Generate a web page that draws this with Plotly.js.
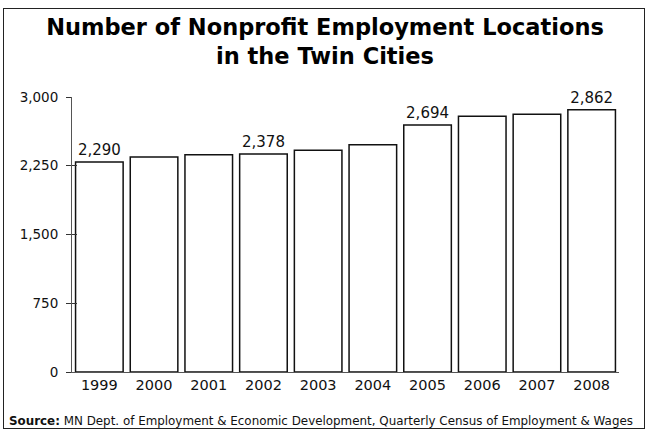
<!DOCTYPE html>
<html>
<head>
<meta charset="utf-8">
<script src="https://cdn.plot.ly/plotly-3.0.1.min.js"></script>
<style>
  html, body { margin: 0; padding: 0; background: #fff; }
  #wrap { position: relative; width: 650px; height: 432px; }
  #frame { position: absolute; left: 3px; top: 8px; width: 642px; height: 421px; border: 1.5px solid #222; box-sizing: border-box; pointer-events: none; z-index: 2; }
  #chart { position: absolute; left: 0; top: 0; width: 650px; height: 432px; }
</style>
</head>
<body>
<div id="wrap">
  <div id="chart"></div>
  <div id="frame"></div>
</div>
<script>
const years = ['1999','2000','2001','2002','2003','2004','2005','2006','2007','2008'];
const locations = [2290, 2345, 2370, 2378, 2418, 2480, 2694, 2790, 2812, 2862];
const labeled = [true, false, false, true, false, false, true, false, false, true];
const yTicks = [0, 750, 1500, 2250, 3000];
const yTickText = ['0', '750', '1,500', '2,250', '3,000'];
const titleText = '<b>Number of Nonprofit Employment Locations<br>in the Twin Cities</b>';
const sourceText = '<b>Source:</b> MN Dept. of Employment &amp; Economic Development, Quarterly Census of Employment &amp; Wages';

const fmt = v => v.toLocaleString('en-US');
const FONT = 'DejaVu Sans, sans-serif';

const trace = {
  type: 'bar',
  x: years,
  y: locations,
  text: locations.map((v, i) => labeled[i] ? fmt(v) : ''),
  textposition: 'outside',
  textfont: {family: FONT, size: 15, color: '#111'},
  cliponaxis: false,
  marker: {color: '#ffffff', line: {color: '#111', width: 1.5}},
  hoverinfo: 'none'
};
const ghost = {type: 'scatter', x: [years[0]], y: [0], yaxis: 'y2', mode: 'none', showlegend: false, hoverinfo: 'none'};

const layout = {
  width: 650, height: 432,
  margin: {l: 72, r: 31, t: 97, b: 60},
  paper_bgcolor: 'rgba(0,0,0,0)',
  plot_bgcolor: '#ffffff',
  showlegend: false,
  bargap: 0.13,
  font: {family: FONT, color: '#111'},
  title: {text: titleText, font: {family: FONT, size: 22.5, color: '#000'}, x: 0.5, xanchor: 'center', y: 0.92, yanchor: 'middle'},
  xaxis: {
    type: 'category', showgrid: false, showline: true, linecolor: '#555', linewidth: 1,
    ticks: '', tickfont: {family: FONT, size: 14.5, color: '#111'}, zeroline: false, fixedrange: true
  },
  yaxis: {
    range: [0, 3000], tickvals: yTicks, ticktext: yTickText, showgrid: false, zeroline: false,
    showline: true, linecolor: '#555', linewidth: 1, ticks: 'outside', ticklen: 5, tickcolor: '#333', tickwidth: 1,
    ticklabelstandoff: 5, tickfont: {family: FONT, size: 13.5, color: '#111'}, fixedrange: true
  },
  yaxis2: {
    overlaying: 'y', range: [0, 3000], tickvals: yTicks, showticklabels: false, showgrid: false, zeroline: false,
    showline: false, ticks: 'inside', ticklen: 5, tickcolor: '#333', tickwidth: 1, side: 'left', fixedrange: true
  },
  annotations: [{
    xref: 'paper', yref: 'paper', x: -0.119, y: -0.177, xanchor: 'left', yanchor: 'middle',
    text: sourceText, showarrow: false, font: {family: FONT, size: 11.9, color: '#111'}
  }]
};

Plotly.newPlot('chart', [trace, ghost], layout, {displayModeBar: false, staticPlot: true});
</script>
</body>
</html>
